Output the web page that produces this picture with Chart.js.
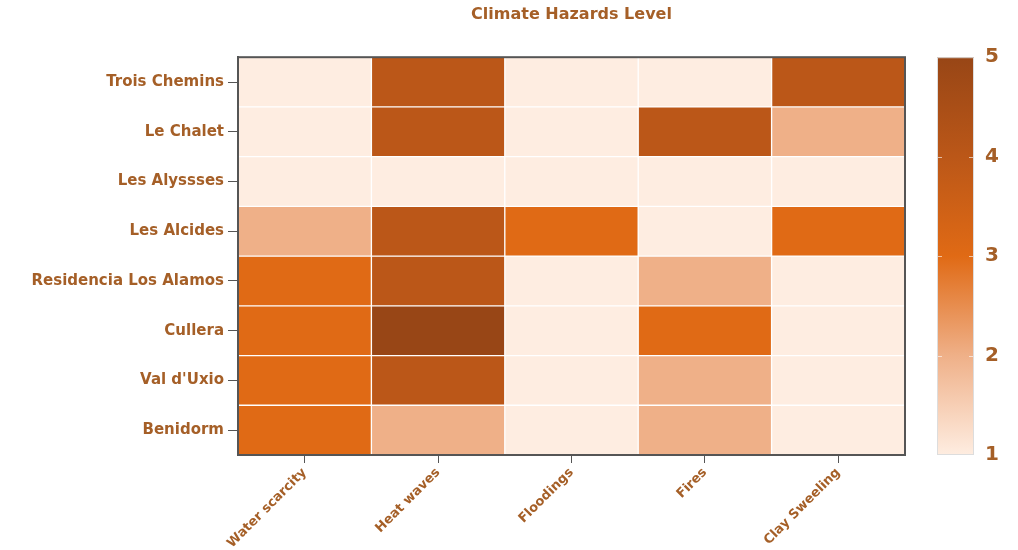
<!DOCTYPE html>
<html>
<head>
<meta charset="utf-8">
<script src="https://cdn.jsdelivr.net/npm/chart.js@4/dist/chart.umd.min.js"></script>
<style>
  html, body { margin: 0; padding: 0; background: #ffffff; }
  #wrap { width: 1018px; height: 550px; position: relative; }
</style>
</head>
<body>
<div id="wrap"><canvas id="c"></canvas></div>
<script>
// ---- data ----
const hazards = ["Water scarcity", "Heat waves", "Floodings", "Fires", "Clay Sweeling"];
const sites = ["Trois Chemins", "Le Chalet", "Les Alyssses", "Les Alcides",
               "Residencia Los Alamos", "Cullera", "Val d'Uxio", "Benidorm"];
const troisChemins = [1, 4, 1, 1, 4];
const leChalet     = [1, 4, 1, 4, 2];
const lesAlyssses  = [1, 1, 1, 1, 1];
const lesAlcides   = [2, 4, 3, 1, 3];
const residencia   = [3, 4, 1, 2, 1];
const cullera      = [3, 5, 1, 3, 1];
const valDUxio     = [3, 4, 1, 2, 1];
const benidorm     = [3, 2, 1, 2, 1];
const levelTicks = [1, 2, 3, 4, 5];
const levelColors = ["#FEEDE1", "#EFB088", "#E06A15", "#BB5718", "#984616"];

const rows = [troisChemins, leChalet, lesAlyssses, lesAlcides, residencia, cullera, valDUxio, benidorm];
const textColor = "#A55F27";
const axisColor = "#555555";

Chart.defaults.font.family = "'DejaVu Sans', sans-serif";
Chart.defaults.color = textColor;

const datasets = rows.map((vals, r) => ({
  label: sites[r],
  data: vals.map(() => [r, r + 1]),
  backgroundColor: vals.map(v => levelColors[v - 1]),
  borderColor: "rgba(255,255,255,0.3)",
  borderWidth: 1,
  borderSkipped: false,
  grouped: false,
  barPercentage: 1,
  categoryPercentage: 1
}));

const framePlugin = {
  id: "frame",
  afterDatasetsDraw(chart) {
    const { ctx, chartArea: a } = chart;
    ctx.save();
    ctx.strokeStyle = axisColor;
    ctx.lineWidth = 2;
    ctx.strokeRect(a.left, a.top, a.right - a.left, a.bottom - a.top);
    ctx.restore();
  },
  afterDraw(chart) {
    const { ctx } = chart;
    const cb = chart.scales.cb;
    const x0 = 937, x1 = 974;
    const yTop = cb.getPixelForValue(5), yBot = cb.getPixelForValue(1);
    const g = ctx.createLinearGradient(0, yBot, 0, yTop);
    levelColors.forEach((c, i) => g.addColorStop(i / (levelColors.length - 1), c));
    ctx.save();
    ctx.fillStyle = g;
    ctx.fillRect(x0, yTop, x1 - x0, yBot - yTop);
    ctx.strokeStyle = "rgba(255,255,255,0.6)";
    ctx.lineWidth = 1;
    [2, 3, 4].forEach(v => {
      const y = Math.round(cb.getPixelForValue(v)) + 0.5;
      ctx.beginPath();
      ctx.moveTo(x0, y); ctx.lineTo(x0 + 5, y);
      ctx.moveTo(x1 - 5, y); ctx.lineTo(x1, y);
      ctx.stroke();
    });
    ctx.strokeStyle = "#dddddd";
    ctx.strokeRect(x0 + 0.5, yTop + 0.5, x1 - x0 - 1, yBot - yTop - 1);
    ctx.restore();
  }
};

new Chart(document.getElementById("c"), {
  type: "bar",
  data: { labels: hazards, datasets },
  options: {
    responsive: true,
    maintainAspectRatio: false,
    animation: false,
    layout: { padding: { top: 5, left: 0, right: 0, bottom: 0 } },
    plugins: {
      legend: { display: false },
      tooltip: { enabled: false },
      title: {
        display: true,
        text: "Climate Hazards Level",
        fullSize: false,
        color: textColor,
        font: { size: 16, weight: "bold" },
        padding: { top: 0, bottom: 33 }
      }
    },
    scales: {
      x: {
        type: "category",
        offset: true,
        grid: { offset: false, drawOnChartArea: false, drawTicks: true, tickLength: 8, color: axisColor, tickColor: axisColor },
        border: { display: true, color: axisColor, width: 2 },
        ticks: { maxRotation: 45, minRotation: 45, padding: 2, color: textColor, font: { size: 13, weight: "bold" }, autoSkip: false },
        afterFit(s) { s.height = 95; }
      },
      y: {
        type: "linear",
        min: 0,
        max: 8,
        reverse: true,
        afterBuildTicks(s) { s.ticks = sites.map((_, i) => ({ value: i + 0.5 })); },
        grid: { drawOnChartArea: false, drawTicks: true, tickLength: 10, color: axisColor, tickColor: axisColor },
        border: { display: true, color: axisColor, width: 2 },
        ticks: {
          autoSkip: false,
          padding: 4,
          color: textColor,
          font: { size: 15, weight: "bold" },
          callback(v) { return sites[Math.floor(v)]; }
        },
        afterFit(s) { s.width = 238; }
      },
      cb: {
        type: "linear",
        position: "right",
        min: 1,
        max: 5,
        afterBuildTicks(s) { s.ticks = levelTicks.map(v => ({ value: v })); },
        grid: { display: false, drawTicks: false },
        border: { display: false },
        ticks: { padding: 80, color: textColor, font: { size: 20, weight: "bold" }, autoSkip: false },
        afterFit(s) { s.width = 113; s.paddingTop = 0; s.paddingBottom = 0; }
      }
    }
  },
  plugins: [framePlugin]
});
</script>
</body>
</html>
